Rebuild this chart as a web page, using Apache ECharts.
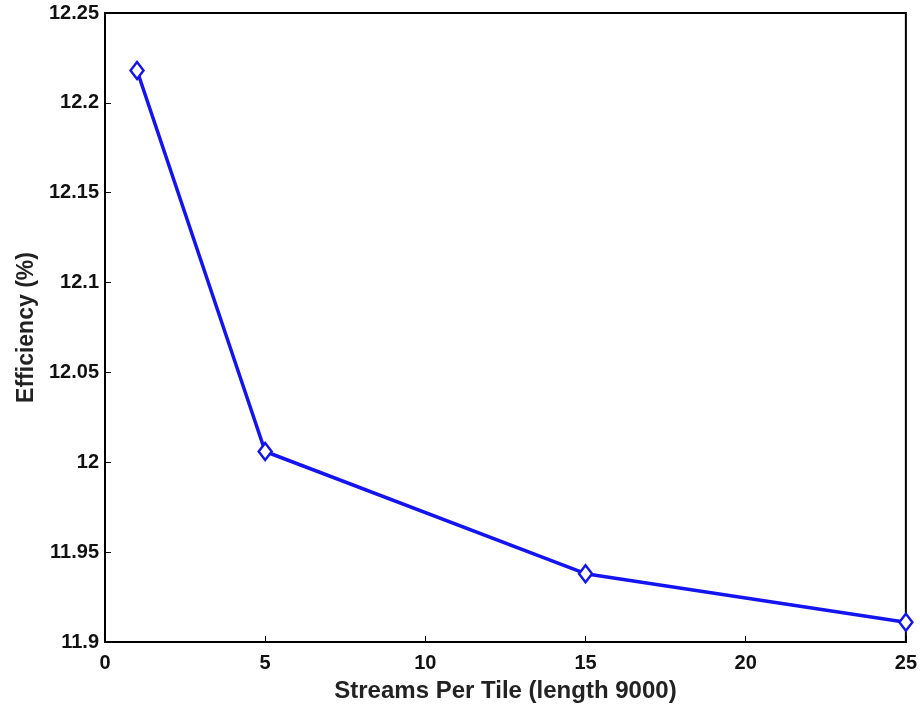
<!DOCTYPE html>
<html><head><meta charset="utf-8">
<script src="https://cdn.jsdelivr.net/npm/echarts@6/dist/echarts.min.js"></script>
<style>html,body{margin:0;padding:0;background:#fff}#c{width:920px;height:708px}</style>
</head><body><div id="c"></div>
<script>
const streams = [1, 5, 15, 25];
const efficiency = [12.218, 12.006, 11.938, 11.911];
const xTicks = [0, 5, 10, 15, 20, 25];
const yTicks = [11.9, 11.95, 12, 12.05, 12.1, 12.15, 12.2, 12.25];

const font = 'Liberation Sans, Arial, Helvetica, sans-serif';
const chart = echarts.init(document.getElementById('c'));
chart.setOption({
  backgroundColor: '#fff',
  animation: false,
  grid: { left: 105, right: 14, top: 13, bottom: 65, show: true, borderColor: '#000', borderWidth: 2, backgroundColor: 'transparent' },
  xAxis: {
    type: 'value', min: xTicks[0], max: xTicks[xTicks.length-1], interval: 5,
    name: 'Streams Per Tile (length 9000)', nameLocation: 'middle', nameGap: 37,
    nameTextStyle: { fontFamily: font, fontWeight: 'bold', fontSize: 24, color: '#222' },
    axisLine: { show: true, lineStyle: { color: '#000', width: 2 } },
    axisTick: { show: true, inside: true, length: 6, lineStyle: { color: '#000' } },
    axisLabel: { fontFamily: font, fontWeight: 'bold', fontSize: 20, color: '#111', margin: 11 },
    splitLine: { show: false }
  },
  yAxis: {
    type: 'value', min: yTicks[0], max: yTicks[yTicks.length-1], interval: 0.05,
    name: 'Efficiency (%)', nameLocation: 'middle', nameGap: 63,
    nameTextStyle: { fontFamily: font, fontWeight: 'bold', fontSize: 23, color: '#222' },
    axisLine: { show: true, lineStyle: { color: '#000', width: 2 } },
    axisTick: { show: true, inside: true, length: 6, lineStyle: { color: '#000' } },
    axisLabel: { fontFamily: font, fontWeight: 'bold', fontSize: 20, color: '#111', margin: 6,
      formatter: v => String(parseFloat(v.toFixed(2))) },
    splitLine: { show: false }
  },
  series: [{
    type: 'line',
    data: streams.map((s, i) => [s, efficiency[i]]),
    symbol: 'diamond', symbolSize: [13, 17],
    lineStyle: { color: '#1414f0', width: 3.5 },
    itemStyle: { color: '#fff', borderColor: '#1414f0', borderWidth: 2.5 },
    clip: false
  }]
});
</script></body></html>
